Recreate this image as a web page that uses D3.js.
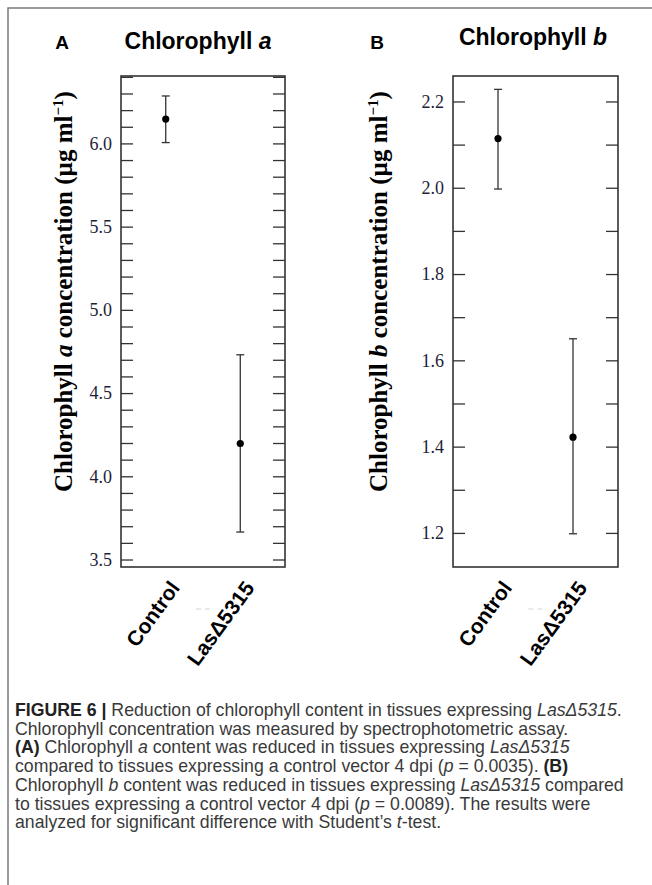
<!DOCTYPE html>
<html>
<head>
<meta charset="utf-8">
<script src="https://cdn.jsdelivr.net/npm/d3@7"></script>
<style>
  body { margin: 0; background: #fff; }
  svg { display: block; }
</style>
</head>
<body>
<div id="chart"></div>
<script>
const groups = ['Control', 'LasΔ5315']

const chlAMean = [6.146, 4.197]
const chlALow = [6.005, 3.665]
const chlAHigh = [6.285, 4.730]
const chlADomain = [3.455, 6.405]
const chlATicks = [3.5, 3.6, 3.7, 3.8, 3.9, 4.0, 4.1, 4.2, 4.3, 4.4, 4.5, 4.6, 4.7, 4.8, 4.9, 5.0, 5.1, 5.2, 5.3, 5.4, 5.5, 5.6, 5.7, 5.8, 5.9, 6.0, 6.1, 6.2, 6.3, 6.4]
const chlALabels = [3.5, 4.0, 4.5, 5.0, 5.5, 6.0]

const chlBMean = [2.114, 1.422]
const chlBLow = [1.997, 1.198]
const chlBHigh = [2.228, 1.650]
const chlBDomain = [1.121, 2.259]
const chlBTicks = [1.2, 1.3, 1.4, 1.5, 1.6, 1.7, 1.8, 1.9, 2.0, 2.1, 2.2]
const chlBLabels = [1.2, 1.4, 1.6, 1.8, 2.0, 2.2]

const caption = [
  [['b', 'FIGURE 6 | '], ['', 'Reduction of chlorophyll content in tissues expressing '], ['i', 'LasΔ5315'], ['', '.']],
  [['', 'Chlorophyll concentration was measured by spectrophotometric assay.']],
  [['b', '(A)'], ['', ' Chlorophyll '], ['i', 'a'], ['', ' content was reduced in tissues expressing '], ['i', 'LasΔ5315']],
  [['', 'compared to tissues expressing a control vector 4 dpi ('], ['i', 'p'], ['', ' = 0.0035). '], ['b', '(B)']],
  [['', 'Chlorophyll '], ['i', 'b'], ['', ' content was reduced in tissues expressing '], ['i', 'LasΔ5315'], ['', ' compared']],
  [['', 'to tissues expressing a control vector 4 dpi ('], ['i', 'p'], ['', ' = 0.0089). The results were']],
  [['', 'analyzed for significant difference with Student’s '], ['i', 't'], ['', '-test.']]
]

const width = 652
const height = 885
const plotTop = 76
const plotBottom = 567

const svg = d3.select('#chart')
  .append('svg')
  .attr('width', width)
  .attr('height', height)

// page frame
svg.append('path')
  .attr('d', `M8,${height} L8,8 L${width},8`)
  .attr('fill', 'none')
  .attr('stroke', '#7a7a7a')
  .attr('stroke-width', 1.5)

const createPanel = (opt) => {
  const { letter, title, italic, left, right, domain, ticks, labels, mean, low, high, titleX, titleY, axisX } = opt

  const scaleX = d3.scalePoint().domain(groups).range([left, right]).padding(0.6)
  const scaleY = d3.scaleLinear().domain(domain).range([plotBottom, plotTop])

  const fmt = (v) => labels.some((l) => Math.abs(l - v) < 1e-6) ? d3.format('.1f')(v) : ''

  const axisL = d3.axisLeft(scaleY).tickValues(ticks).tickFormat(fmt).tickSize(-12).tickPadding(9)
  const axisR = d3.axisRight(scaleY).tickValues(ticks).tickFormat('').tickSize(-12)

  const gl = svg.append('g').attr('transform', `translate(${left}, 0)`).call(axisL)
  const gr = svg.append('g').attr('transform', `translate(${right}, 0)`).call(axisR)

  for (const g of [gl, gr]) {
    g.select('.domain').remove()
    g.selectAll('.tick line').attr('stroke', '#333').attr('stroke-width', 1.3)
  }
  gl.selectAll('.tick text')
    .attr('fill', '#1e1e38')
    .style('font-family', '"Liberation Serif", "Times New Roman", serif')
    .style('font-size', '18px')

  svg.append('rect')
    .attr('x', left)
    .attr('y', plotTop)
    .attr('width', right - left)
    .attr('height', plotBottom - plotTop)
    .attr('fill', 'none')
    .attr('stroke', '#333')
    .attr('stroke-width', 1.6)

  // error bars
  const bars = svg.append('g')
    .selectAll('g')
    .data(groups)
    .join('g')
    .attr('stroke', '#333')
    .attr('stroke-width', 1.3)

  bars.append('line')
    .attr('x1', (d) => scaleX(d))
    .attr('x2', (d) => scaleX(d))
    .attr('y1', (d, i) => scaleY(low[i]))
    .attr('y2', (d, i) => scaleY(high[i]))
  bars.append('line')
    .attr('x1', (d) => scaleX(d) - 4)
    .attr('x2', (d) => scaleX(d) + 4)
    .attr('y1', (d, i) => scaleY(high[i]))
    .attr('y2', (d, i) => scaleY(high[i]))
  bars.append('line')
    .attr('x1', (d) => scaleX(d) - 4)
    .attr('x2', (d) => scaleX(d) + 4)
    .attr('y1', (d, i) => scaleY(low[i]))
    .attr('y2', (d, i) => scaleY(low[i]))

  svg.append('g')
    .selectAll('circle')
    .data(groups)
    .join('circle')
    .attr('cx', (d) => scaleX(d))
    .attr('cy', (d, i) => scaleY(mean[i]))
    .attr('r', 3.6)
    .attr('fill', '#000')

  // category labels
  svg.append('g')
    .selectAll('text')
    .data(groups)
    .join('text')
    .attr('transform', (d) => `translate(${scaleX(d) + 15}, ${plotBottom + 21}) rotate(-54)`)
    .attr('text-anchor', 'end')
    .style('font-family', '"Liberation Sans", Arial, sans-serif')
    .style('font-weight', 'bold')
    .style('font-size', '21px')
    .text((d) => d)

  // faint artefact between labels
  svg.append('line')
    .attr('x1', (scaleX(groups[0]) + scaleX(groups[1])) / 2 - 7)
    .attr('x2', (scaleX(groups[0]) + scaleX(groups[1])) / 2 + 7)
    .attr('y1', plotBottom + 42)
    .attr('y2', plotBottom + 42)
    .attr('stroke', '#d4d4d4')
    .attr('stroke-dasharray', '5,4')

  // panel letter and title
  svg.append('text')
    .attr('x', letter.x)
    .attr('y', 49)
    .attr('text-anchor', 'middle')
    .style('font-family', '"Liberation Sans", Arial, sans-serif')
    .style('font-weight', 'bold')
    .style('font-size', '19px')
    .text(letter.text)

  const t = svg.append('text')
    .attr('x', titleX)
    .attr('y', titleY)
    .attr('text-anchor', 'middle')
    .style('font-family', '"Liberation Sans", Arial, sans-serif')
    .style('font-weight', 'bold')
    .style('font-size', '23px')
  t.append('tspan').text(title + ' ')
  t.append('tspan').style('font-style', 'italic').text(italic)

  // y axis title
  const yt = svg.append('text')
    .attr('transform', `translate(${axisX}, 492) rotate(-90)`)
    .attr('text-anchor', 'start')
    .style('font-family', '"Liberation Serif", "Times New Roman", serif')
    .style('font-weight', 'bold')
    .style('font-size', '25px')
  yt.append('tspan').text('Chlorophyll ')
  yt.append('tspan').style('font-style', 'italic').text(italic)
  yt.append('tspan').text(' concentration (µg ml')
  yt.append('tspan').attr('dy', -9).style('font-size', '15px').text('−1')
  yt.append('tspan').attr('dy', 9).text(')')
}

createPanel({
  letter: { text: 'A', x: 62 },
  title: 'Chlorophyll',
  italic: 'a',
  left: 121,
  right: 285,
  domain: chlADomain,
  ticks: chlATicks,
  labels: chlALabels,
  mean: chlAMean,
  low: chlALow,
  high: chlAHigh,
  titleX: 198,
  titleY: 49,
  axisX: 72
})

createPanel({
  letter: { text: 'B', x: 377 },
  title: 'Chlorophyll',
  italic: 'b',
  left: 453,
  right: 618,
  domain: chlBDomain,
  ticks: chlBTicks,
  labels: chlBLabels,
  mean: chlBMean,
  low: chlBLow,
  high: chlBHigh,
  titleX: 533,
  titleY: 45,
  axisX: 387
})

// caption
const cap = svg.append('g')
  .style('font-family', '"Liberation Sans", Arial, sans-serif')
  .style('font-size', '17.7px')
  .attr('fill', '#3a3a3a')

caption.forEach((line, i) => {
  const txt = cap.append('text')
    .attr('x', 15)
    .attr('y', 716 + i * 18.7)
  for (const [style, s] of line) {
    const ts = txt.append('tspan').text(s)
    if (style === 'b') ts.style('font-weight', 'bold').attr('fill', '#222')
    if (style === 'i') ts.style('font-style', 'italic')
  }
})
</script>
</body>
</html>
